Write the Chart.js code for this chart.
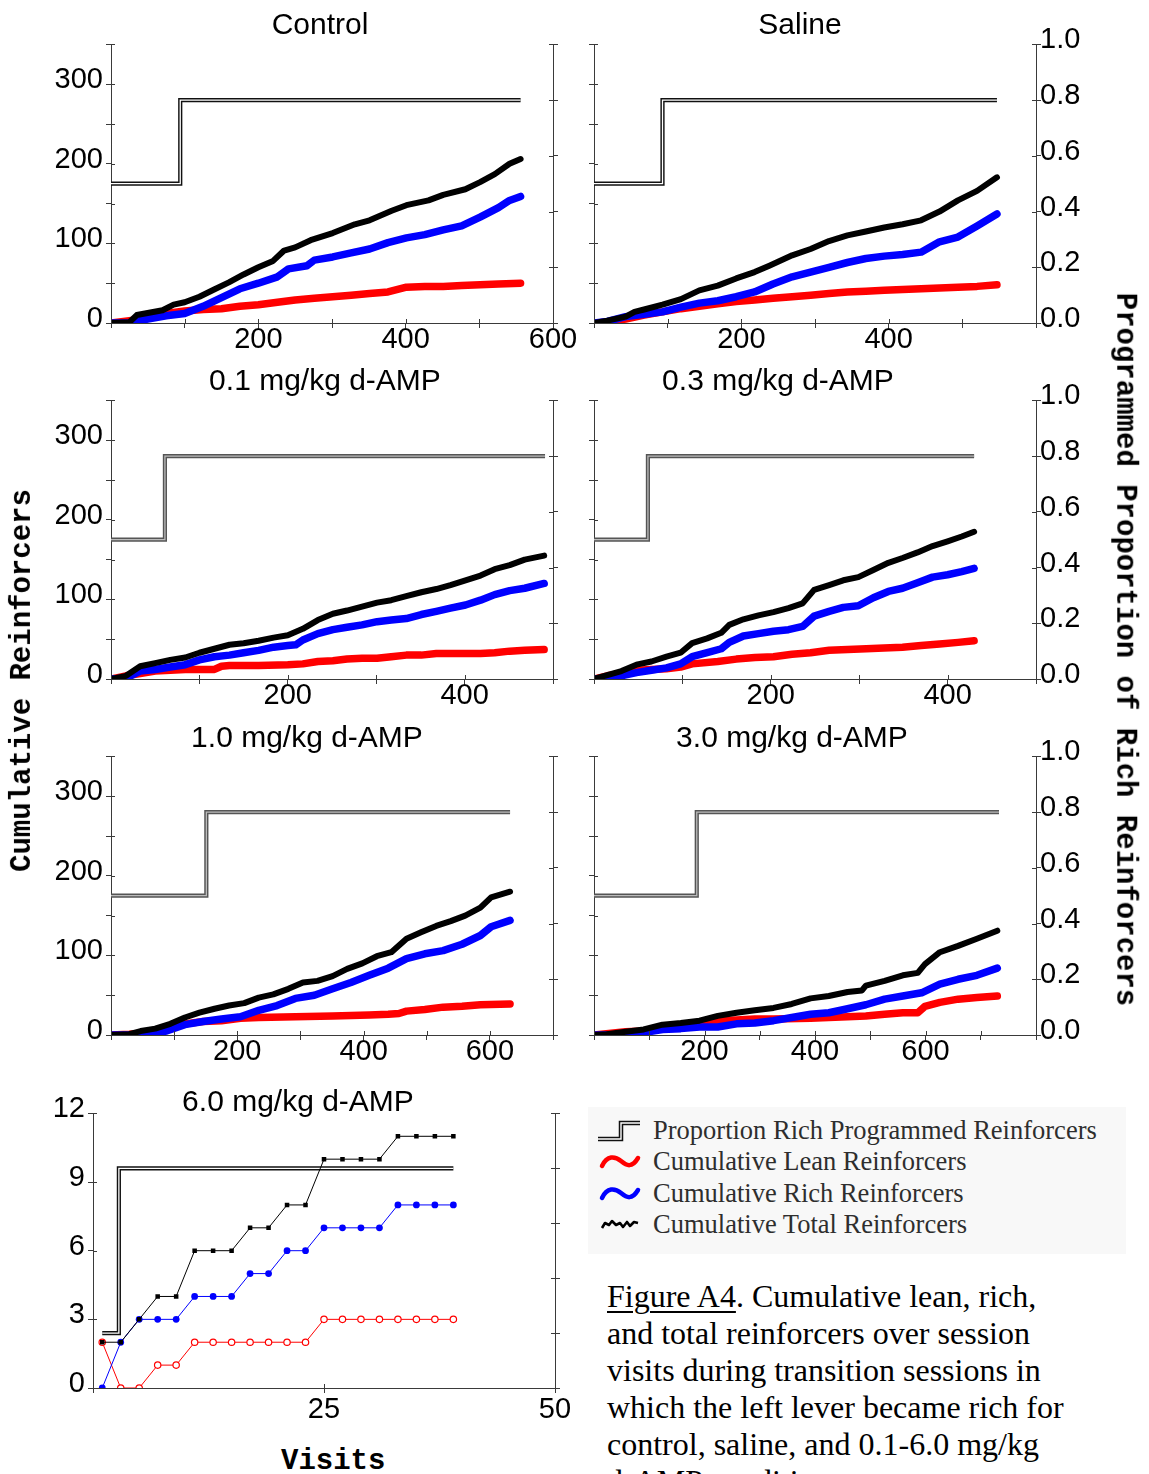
<!DOCTYPE html>
<html>
<head>
<meta charset="utf-8">
<title>Figure A4</title>
<script src="https://cdn.jsdelivr.net/npm/chart.js@4.4.1/dist/chart.umd.min.js"></script>
<style>
  html, body { margin: 0; padding: 0; background: #fff; }
  body { width: 1149px; height: 1474px; position: relative; overflow: hidden;
         font-family: "Liberation Sans", Arial, sans-serif; }
  canvas.panel { position: absolute; }
  .title { position: absolute; font-size: 30px; line-height: 1; color: #000;
           white-space: nowrap; transform: translate(-50%, -50%); z-index: 5; }
  .axis-title { position: absolute; font-family: "Liberation Mono", "Courier New", monospace;
                font-weight: bold; font-size: 29px; line-height: 1; color: #000;
                white-space: nowrap; z-index: 5; }
  #legend { position: absolute; left: 588px; top: 1107px; width: 538px; height: 147px;
            background: #f8f8f8; z-index: 4; }
  .lg-row { position: absolute; left: 0; height: 30px; }
  .lg-row svg { position: absolute; left: 8px; top: 0; }
  .lg-row span { position: absolute; left: 65px; top: 0; font-family: "Liberation Serif", "Times New Roman", serif;
                 font-size: 26.5px; line-height: 30px; color: #2e2e2e; white-space: nowrap; }
  #caption { position: absolute; left: 607px; top: 1278px; font-family: "Liberation Serif", "Times New Roman", serif;
             font-size: 32px; line-height: 37px; color: #000; white-space: nowrap; z-index: 5; }
  #caption u { text-decoration-thickness: 1.5px; text-underline-offset: 4px; }
</style>
</head>
<body>

<div class="title" style="left:320px; top:24px;">Control</div>
<div class="title" style="left:800px; top:24px;">Saline</div>
<div class="title" style="left:325px; top:380px;">0.1 mg/kg d-AMP</div>
<div class="title" style="left:778px; top:380px;">0.3 mg/kg d-AMP</div>
<div class="title" style="left:307px; top:737px;">1.0 mg/kg d-AMP</div>
<div class="title" style="left:792px; top:737px;">3.0 mg/kg d-AMP</div>
<div class="title" style="left:298px; top:1101px;">6.0 mg/kg d-AMP</div>

<div class="axis-title" id="ytitle">Cumulative Reinforcers</div>
<div class="axis-title" id="y2title">Programmed Proportion of Rich Reinforcers</div>
<div class="axis-title" id="xtitle">Visits</div>

<div id="legend">
  <div class="lg-row" style="top:8px;">
    <svg width="50" height="30" viewBox="0 0 50 30">
      <path d="M2,24 H25 V8 H44" fill="none" stroke="#111" stroke-width="4.5"/>
      <path d="M2,24 H25 V8 H44" fill="none" stroke="#fff" stroke-width="1.4"/>
    </svg>
    <span>Proportion Rich Programmed Reinforcers</span>
  </div>
  <div class="lg-row" style="top:39px;">
    <svg width="50" height="30" viewBox="0 0 50 30">
      <path d="M6,20 C11,9 19,10 25,15 S36,22 42,12" fill="none" stroke="#ff0000" stroke-width="4.5" stroke-linecap="round"/>
    </svg>
    <span>Cumulative Lean Reinforcers</span>
  </div>
  <div class="lg-row" style="top:71px;">
    <svg width="50" height="30" viewBox="0 0 50 30">
      <path d="M6,20 C11,9 19,10 25,15 S36,22 42,12" fill="none" stroke="#0000ff" stroke-width="4.5" stroke-linecap="round"/>
    </svg>
    <span>Cumulative Rich Reinforcers</span>
  </div>
  <div class="lg-row" style="top:102px;">
    <svg width="50" height="30" viewBox="0 0 50 30">
      <path d="M6,19 L9,14 L13,16 L16,12 L20,16 L24,14 L27,18 L31,13 L34,17 L38,13 L42,14" fill="none" stroke="#000" stroke-width="2.6" stroke-linejoin="round"/>
    </svg>
    <span>Cumulative Total Reinforcers</span>
  </div>
</div>

<div id="caption"><u>Figure A4</u>. Cumulative lean, rich,<br>and total reinforcers over session<br>visits during transition sessions in<br>which the left lever became rich for<br>control, saline, and 0.1-6.0 mg/kg<br>d-AMP conditions.</div>

<script>
// ---- Cumulative reinforcers: [visit, count] ----
const controlLean  = [[0,0],[25,3],[50,6],[75,12],[100,15],[125,17],[150,18],[175,21],[200,23],[226,26],[250,29],[276,31],[301,33],[326,35],[351,37],[376,39],[401,45],[426,46],[451,46],[476,47],[501,48],[526,49],[556,50]];
const controlRich  = [[0,0],[25,0],[50,5],[75,9],[100,12],[125,21],[150,32],[175,43],[200,50],[226,58],[241,68],[266,72],[276,79],[301,83],[326,88],[351,93],[376,101],[401,107],[426,111],[451,117],[476,122],[501,133],[526,145],[541,154],[556,159]];
const controlTotal = [[0,0],[25,1],[35,10],[70,16],[85,23],[100,26],[120,33],[140,42],[160,51],[180,61],[200,70],[220,78],[235,91],[250,95],[271,104],[301,113],[331,124],[351,129],[381,141],[401,148],[431,154],[451,161],[481,168],[501,177],[521,187],[541,200],[556,206]];

const salineLean  = [[0,0],[18,1],[43,5],[68,10],[93,14],[118,18],[143,21],[168,24],[193,27],[218,29],[243,31],[269,33],[294,35],[319,37],[344,39],[369,40],[394,41],[419,42],[444,43],[469,44],[494,45],[520,46],[547,48]];
const salineRich  = [[0,0],[18,2],[43,8],[68,11],[93,14],[118,20],[143,25],[168,28],[193,33],[218,39],[243,49],[269,58],[294,64],[319,70],[344,76],[369,81],[394,84],[419,86],[444,89],[469,102],[494,108],[520,122],[547,137]];
const salineTotal = [[0,0],[18,3],[43,8],[55,14],[68,17],[93,23],[118,30],[143,41],[168,47],[193,56],[218,64],[238,72],[269,85],[294,93],[319,103],[344,110],[369,115],[394,120],[419,124],[444,129],[469,140],[494,154],[520,166],[547,183]];

const dose01Lean  = [[0,0],[17,4],[33,7],[50,10],[67,11],[84,12],[117,12],[125,16],[134,17],[167,17],[200,18],[217,19],[234,22],[251,23],[267,25],[284,26],[301,26],[317,28],[334,30],[351,30],[368,32],[418,32],[434,33],[451,35],[468,36],[490,37]];
const dose01Rich  = [[0,0],[17,1],[33,10],[50,12],[67,15],[84,18],[100,24],[117,28],[134,30],[150,33],[167,36],[184,40],[200,42],[209,43],[217,49],[234,57],[251,62],[267,65],[284,68],[301,72],[317,74],[334,76],[351,81],[368,85],[384,89],[401,93],[418,99],[434,106],[451,111],[468,114],[490,120]];
const dose01Total = [[0,0],[17,4],[33,16],[50,20],[67,24],[84,27],[100,33],[117,38],[134,43],[150,45],[167,48],[184,52],[200,55],[217,63],[234,74],[251,82],[267,86],[284,91],[301,96],[317,99],[334,104],[351,109],[368,113],[384,118],[401,124],[418,130],[434,138],[451,143],[468,150],[490,155]];

const dose03Lean  = [[0,0],[15,4],[31,7],[48,11],[65,12],[82,13],[98,15],[111,19],[140,22],[161,25],[182,27],[203,28],[224,31],[245,33],[266,36],[287,37],[308,38],[328,39],[349,40],[370,42],[391,44],[412,46],[430,48]];
const dose03Rich  = [[0,0],[15,1],[31,4],[48,8],[65,11],[82,14],[98,19],[111,28],[128,33],[144,38],[153,46],[169,54],[186,57],[203,60],[220,62],[236,66],[249,79],[266,85],[282,90],[299,92],[316,102],[333,110],[349,114],[366,121],[383,128],[400,131],[416,135],[430,139]];
const dose03Total = [[0,0],[15,5],[31,10],[48,18],[65,22],[82,28],[98,33],[111,45],[128,51],[144,58],[153,68],[169,75],[186,80],[203,84],[220,89],[236,95],[249,112],[266,118],[282,124],[299,128],[316,137],[333,146],[349,152],[366,159],[383,167],[400,173],[416,179],[430,185]];

const dose10Lean  = [[0,0],[29,1],[58,3],[88,10],[117,14],[146,17],[175,18],[205,21],[234,22],[292,23],[351,24],[409,25],[439,26],[456,27],[468,30],[497,32],[526,35],[556,36],[585,38],[632,39]];
const dose10Rich  = [[0,0],[29,0],[58,1],[88,5],[117,13],[146,17],[175,20],[205,23],[234,31],[263,37],[292,46],[322,50],[351,58],[380,66],[409,75],[439,84],[468,96],[497,102],[526,106],[556,114],[585,125],[602,136],[632,144]];
const dose10Total = [[0,0],[29,1],[47,5],[70,8],[94,14],[117,22],[140,28],[164,33],[187,37],[211,40],[234,47],[257,51],[281,58],[304,66],[327,68],[351,74],[374,83],[398,90],[421,99],[444,104],[468,121],[491,129],[515,137],[538,143],[561,150],[585,160],[602,173],[632,180]];

const dose30Lean  = [[0,0],[57,4],[90,5],[124,10],[157,13],[191,16],[224,18],[258,19],[291,20],[325,20],[392,21],[425,22],[459,23],[492,24],[526,26],[559,28],[586,28],[599,36],[626,41],[659,45],[693,47],[730,49]];
const dose30Rich  = [[0,0],[23,0],[57,1],[90,3],[124,7],[157,8],[191,10],[224,10],[258,14],[291,15],[325,18],[358,22],[392,26],[425,28],[459,33],[492,38],[526,45],[559,49],[593,53],[626,64],[659,70],[693,75],[730,84]];
const dose30Total = [[0,0],[23,1],[57,4],[90,7],[124,13],[157,15],[191,18],[224,24],[258,28],[291,31],[325,34],[358,39],[392,46],[425,49],[459,54],[485,56],[492,62],[526,68],[559,75],[586,78],[599,89],[626,104],[659,112],[693,121],[730,131]];

// 6.0 mg/kg session: one reading every other visit
const dose60Visits = [1,3,5,7,9,11,13,15,17,19,21,23,25,27,29,31,33,35,37,39];
const dose60Lean   = [2,0,0,1,1,2,2,2,2,2,2,2,3,3,3,3,3,3,3,3];
const dose60Rich   = [0,2,3,3,3,4,4,4,5,5,6,6,7,7,7,7,8,8,8,8];
const dose60Total  = [2,2,3,4,4,6,6,6,7,7,8,8,10,10,10,10,11,11,11,11];

// ---- Programmed proportion of rich reinforcers: [visit, proportion] ----
const controlProg = [[0,0.5],[94,0.5],[94,0.8],[556,0.8]];
const salineProg  = [[0,0.5],[93,0.5],[93,0.8],[547,0.8]];
const dose01Prog  = [[0,0.5],[61,0.5],[61,0.8],[491,0.8]];
const dose03Prog  = [[0,0.5],[61,0.5],[61,0.8],[430,0.8]];
const dose10Prog  = [[0,0.5],[151,0.5],[151,0.8],[632,0.8]];
const dose30Prog  = [[0,0.5],[186,0.5],[186,0.8],[733,0.8]];
const dose60Prog  = [[1,0.2],[2.8,0.2],[2.8,0.8],[39,0.8]];

// ---- Tick labels ----
const countTicks    = [0, 100, 200, 300];
const fewCountTicks = [0, 3, 6, 9, 12];
const visitTicks600 = [200, 400, 600];
const visitTicks500 = [200, 400];
const visitTicks50  = [25, 50];

// ---------------------------------------------------------------------------
Chart.defaults.font.family = '"Liberation Sans", Arial, sans-serif';
Chart.defaults.font.size = 29;
Chart.defaults.color = '#000';
Chart.defaults.animation = false;

const AXIS_COLOR = '#3a3a3a';
const xy = pairs => pairs.map(p => ({ x: p[0], y: p[1] }));

// short tick stubs on the inner side of each axis, so ticks cross the axis line
const innerTicks = {
  id: 'innerTicks',
  afterDraw(chart) {
    const { ctx, chartArea: a, scales } = chart;
    ctx.save();
    ctx.strokeStyle = AXIS_COLOR;
    ctx.lineWidth = 1;
    ctx.beginPath();
    scales.x.ticks.forEach((t, i) => {
      const p = Math.round(scales.x.getPixelForTick(i)) + 0.5;
      ctx.moveTo(p, a.bottom); ctx.lineTo(p, a.bottom - 4);
    });
    scales.y.ticks.forEach((t, i) => {
      const p = Math.round(scales.y.getPixelForTick(i)) + 0.5;
      ctx.moveTo(a.left, p); ctx.lineTo(a.left + 4, p);
    });
    scales.y2.ticks.forEach((t, i) => {
      const p = Math.round(scales.y2.getPixelForTick(i)) + 0.5;
      ctx.moveTo(a.right, p); ctx.lineTo(a.right - 4, p);
    });
    ctx.stroke();
    ctx.restore();
  }
};

function cumulativeLine(pairs, color, width) {
  return { data: xy(pairs), borderColor: color, backgroundColor: color, borderWidth: width,
           pointRadius: 0, tension: 0, borderCapStyle: 'round', borderJoinStyle: 'round',
           yAxisID: 'y', fill: false };
}

function programmedLine(pairs, outer, inner) {
  return [
    { data: xy(pairs), borderColor: inner, borderWidth: 1.3, pointRadius: 0, tension: 0, yAxisID: 'y2' },
    { data: xy(pairs), borderColor: outer, borderWidth: 4.2, pointRadius: 0, tension: 0, yAxisID: 'y2',
      borderCapStyle: 'butt', borderJoinStyle: 'miter' }
  ];
}

function buildScales(s) {
  const grid = { display: true, drawOnChartArea: false, drawTicks: true, tickLength: 5,
                 color: AXIS_COLOR, lineWidth: 1 };
  const border = { display: true, color: AXIS_COLOR, width: 1 };
  return {
    x: { type: 'linear', min: 0, max: s.xMax, border, grid,
         ticks: { stepSize: s.xStep, autoSkip: false, maxRotation: 0, padding: s.xPad,
                  callback: v => s.xLabels.includes(v) ? String(v) : '' },
         afterFit: sc => { sc.height = s.hx; } },
    y: { type: 'linear', position: 'left', min: 0, max: s.yMax, border, grid,
         ticks: { stepSize: s.yStep, autoSkip: false, padding: 3, labelOffset: -4,
                  callback: v => (s.yLabels && s.yLabels.includes(v)) ? String(v) : '' },
         afterFit: sc => { sc.width = s.wy; } },
    y2: { type: 'linear', position: 'right', min: 0, max: 1, border, grid,
          ticks: { stepSize: 0.2, autoSkip: false, padding: -1, labelOffset: -4,
                   callback: v => s.rightLabels ? v.toFixed(1) : '' },
          afterFit: sc => { sc.width = s.wr; } }
  };
}

function makePanel(box, scaleSpec, datasets) {
  const cv = document.createElement('canvas');
  cv.className = 'panel';
  cv.width = box.w; cv.height = box.h;
  cv.style.left = box.left + 'px';
  cv.style.top = box.top + 'px';
  cv.style.width = box.w + 'px';
  cv.style.height = box.h + 'px';
  document.body.appendChild(cv);
  new Chart(cv.getContext('2d'), {
    type: 'line',
    data: { datasets },
    options: {
      responsive: false,
      maintainAspectRatio: false,
      animation: false,
      devicePixelRatio: 1,
      layout: { padding: { top: 20, left: 0, right: 0, bottom: 0 } },
      plugins: { legend: { display: false }, tooltip: { enabled: false } },
      scales: buildScales(scaleSpec)
    },
    plugins: [innerTicks]
  });
}

// panel boxes (canvas placement) and axis geometry
const LEFT_COL  = { left: 0,   w: 600, wy: 111, wr: 47 };
const RIGHT_COL = { left: 560, w: 589, wy: 34,  wr: 113 };
const ROW_TOPS  = [24, 380, 736];
const ROW_H = 355, ROW_HX = 56;

function standardPanel(col, row, xMax, xLabels, isRightCol, lean, rich, total, prog, progOuter, progInner) {
  makePanel(
    { left: col.left, top: ROW_TOPS[row], w: col.w, h: ROW_H },
    { xMax, xStep: 100, xLabels, xPad: -5, yMax: 350, yStep: 50,
      yLabels: isRightCol ? null : countTicks, rightLabels: isRightCol,
      wy: col.wy, wr: col.wr, hx: ROW_HX },
    [
      cumulativeLine(total, '#000000', 6),
      cumulativeLine(rich, '#0000ff', 7.5),
      cumulativeLine(lean, '#ff0000', 7.5),
      ...programmedLine(prog, progOuter, progInner)
    ]
  );
}

standardPanel(LEFT_COL, 0, 600, visitTicks600, false, controlLean, controlRich, controlTotal, controlProg, '#111', '#fff');
standardPanel(RIGHT_COL, 0, 600, visitTicks500, true, salineLean, salineRich, salineTotal, salineProg, '#111', '#fff');
standardPanel(LEFT_COL, 1, 500, visitTicks500, false, dose01Lean, dose01Rich, dose01Total, dose01Prog, '#555', '#bbb');
standardPanel(RIGHT_COL, 1, 500, visitTicks500, true, dose03Lean, dose03Rich, dose03Total, dose03Prog, '#555', '#bbb');
standardPanel(LEFT_COL, 2, 700, visitTicks600, false, dose10Lean, dose10Rich, dose10Total, dose10Prog, '#555', '#bbb');
standardPanel(RIGHT_COL, 2, 800, visitTicks600, true, dose30Lean, dose30Rich, dose30Total, dose30Prog, '#555', '#bbb');

// 6.0 mg/kg panel: individual visits with markers
const pts = vals => vals.map((v, i) => ({ x: dose60Visits[i], y: v }));
makePanel(
  { left: 0, top: 1093, w: 600, h: 340 },
  { xMax: 50, xStep: 25, xLabels: visitTicks50, xPad: 0, yMax: 12, yStep: 3,
    yLabels: fewCountTicks, rightLabels: false, wy: 93, wr: 45, hx: 45 },
  [
    { data: pts(dose60Total), borderColor: '#000', borderWidth: 1, tension: 0, yAxisID: 'y',
      pointStyle: 'rect', pointRadius: 3.2, pointBackgroundColor: '#000', pointBorderColor: '#000', pointBorderWidth: 0 },
    { data: pts(dose60Rich), borderColor: '#0000ff', borderWidth: 1, tension: 0, yAxisID: 'y',
      pointStyle: 'circle', pointRadius: 3.4, pointBackgroundColor: '#0000ff', pointBorderColor: '#0000ff', pointBorderWidth: 0 },
    { data: pts(dose60Lean), borderColor: '#ff0000', borderWidth: 1, tension: 0, yAxisID: 'y',
      pointStyle: 'circle', pointRadius: 3.2, pointBackgroundColor: '#fff', pointBorderColor: '#ff0000', pointBorderWidth: 1.2 },
    ...programmedLine(dose60Prog, '#111', '#fff')
  ]
);

// axis titles
const yt = document.getElementById('ytitle');
yt.style.left = (22 - yt.offsetWidth / 2) + 'px';
yt.style.top = (680 - yt.offsetHeight / 2) + 'px';
yt.style.transform = 'rotate(-90deg)';
const y2t = document.getElementById('y2title');
y2t.style.left = (1125 - y2t.offsetWidth / 2) + 'px';
y2t.style.top = (649 - y2t.offsetHeight / 2) + 'px';
y2t.style.transform = 'rotate(90deg)';
const xt = document.getElementById('xtitle');
xt.style.left = (333 - xt.offsetWidth / 2) + 'px';
xt.style.top = (1461 - xt.offsetHeight / 2) + 'px';
</script>
</body>
</html>
